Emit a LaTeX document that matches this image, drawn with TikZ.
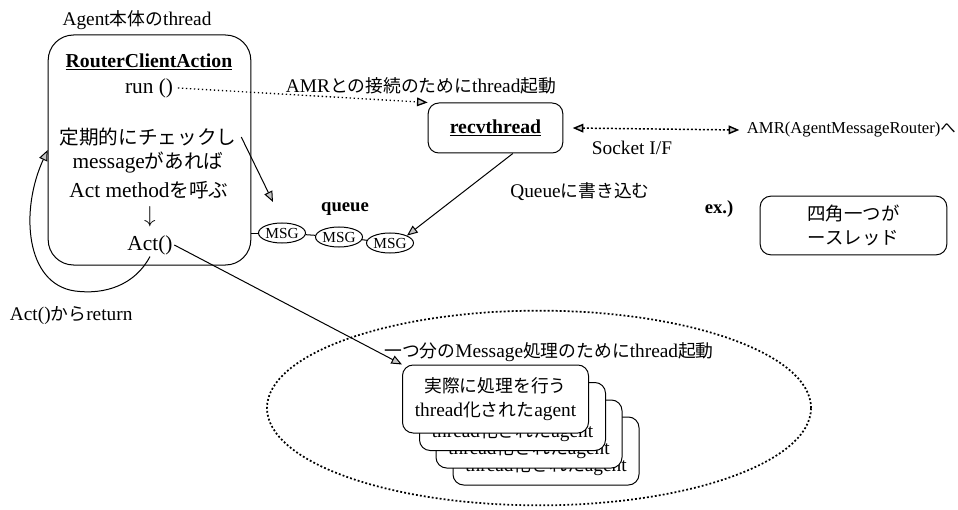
\documentclass[tikz,border=0pt]{standalone}
\usepackage{fontspec}
\setmainfont{Liberation Serif}
\newfontfamily\jp[Scale=0.92]{Noto Sans CJK JP}
\usetikzlibrary{arrows.meta,shapes.geometric}

\tikzset{every picture/.style={line width=0.75pt}}
\tikzset{
  thread/.style={draw, rounded corners=8pt, fill=white, align=center},
  card/.style={thread, inner xsep=2pt, minimum width=139.5pt, minimum height=51pt, font=\fontsize{14.5}{18}\selectfont},
  msg/.style={draw, ellipse, inner sep=0pt, minimum width=35pt, minimum height=15pt, font=\fontsize{11.5}{11.5}\selectfont},
  grayhead/.style={-{Triangle[length=8pt,width=6.5pt,fill=gray!45]}},
  sm/.style={font=\fontsize{14.5}{17}\selectfont},
  big/.style={font=\fontsize{16}{19}\selectfont},
  heavy/.style={font=\bfseries\fontsize{14.8}{17}\selectfont},
}

\begin{document}
\begin{tikzpicture}[x=0.75pt,y=0.75pt,yscale=-1,xscale=1]
	\useasboundingbox (0,0) rectangle (958,510);

	%Dotted Ellipse
	\node (pool) [draw, ellipse, line width=1.3pt, dash pattern=on 1.4pt off 1.6pt, minimum width=408pt, minimum height=146pt] at (539,408) {};

	%Rounded Rect
	\node (main) [thread, rounded corners=19pt, minimum width=152pt, minimum height=172.5pt] at (149.5,150) {};
	%Rounded Rect
	\node (recv) [thread, heavy, minimum width=101pt, minimum height=37.5pt] at (495.5,128) {\underline{recvthread}};
	%Rounded Rect
	\node (exbox) [thread, minimum width=140pt, minimum height=44pt, font=\fontsize{15}{18.5}\selectfont] at (853.5,225.5) {{\jp 四角一つが}\\{\jp ースレッド}};

	%Stacked Rects
	\node (card4) [card] at (546,451) {{\jp 実際に処理を行う}\\[5pt]thread{\jp 化された}agent};
	\node (card3) [card] at (529,434) {{\jp 実際に処理を行う}\\[5pt]thread{\jp 化された}agent};
	\node (card2) [card] at (512.5,416.5) {{\jp 実際に処理を行う}\\[5pt]thread{\jp 化された}agent};
	\node (card1) [card] at (495.5,399) {{\jp 実際に処理を行う}\\thread{\jp 化された}agent};

	% Text Node
	\node (title) [sm] at (137,20) {Agent{\jp 本体の}thread};
	% Text Node
	\node (rca) [heavy] at (149,62) {\underline{RouterClientAction}};
	% Text Node
	\node (run) [big] at (149,88) {run ()};
	% Text Node
	\node (chk) [big] at (148,137) {{\jp 定期的にチェックし}};
	% Text Node
	\node (hasmsg) [big] at (148,163) {message{\jp があれば}};
	% Text Node
	\node (callact) [big] at (149,190) {Act method{\jp を呼ぶ}};
	% Text Node
	\node (down) [big] at (150,217) {$\downarrow$};
	% Text Node
	\node (act) [big, inner sep=1pt] at (150,245) {Act()};
	% Text Node
	\node (runlbl) [sm] at (421,86) {AMR{\jp との接続のために}thread{\jp 起動}};
	% Text Node
	\node (amr) [anchor=west, font=\fontsize{12.5}{15}\selectfont] at (742,130) {AMR(AgentMessageRouter){\jp へ}};
	% Text Node
	\node (socket) [sm] at (632,148) {Socket I/F};
	% Text Node
	\node (qwrite) [sm] at (580,192) {Queue{\jp に書き込む}};
	% Text Node
	\node (queue) [font=\bfseries\fontsize{14}{16}\selectfont] at (345,209) {queue};
	% Text Node
	\node (ex) [font=\bfseries\fontsize{14}{16}\selectfont] at (719,209) {ex.)};
	% Text Node
	\node (ret) [sm, anchor=west] at (5,316) {Act(){\jp から}return};
	% Text Node
	\node (plbl) [sm] at (549,352) {{\jp 一つ分の}Message{\jp 処理のために}thread{\jp 起動}};

	%Queue
	\node (msga) [msg] at (282,233) {MSG};
	\node (msgb) [msg] at (339,237) {MSG};
	\node (msgc) [msg] at (390,243) {MSG};
	\draw (main.east |- msga.west) -- (msga.west);
	\draw (msga) -- (msgb);
	\draw (msgb) -- (msgc);

	\coordinate (qin) at (273,202);

	%Straight Lines
	\draw [dotted, line width=1pt, grayhead] (run.east) -- (recv.north west);
	%Straight Lines
	\draw [line width=1.1pt, dash pattern=on 1.4pt off 1.6pt, {Triangle[length=8pt,width=6.5pt,fill=gray!45]}-{Triangle[length=8pt,width=6.5pt,fill=gray!45]}] ([xshift=7pt]recv.east) -- ([xshift=-2pt]amr.west);
	%Straight Lines
	\draw [grayhead] ([xshift=13pt]recv.south) -- (msgc.north east);
	%Straight Lines
	\draw [grayhead] (chk.east) -- (qin);
	%Straight Lines
	\draw [grayhead] (act.east) -- (card1.north west);
	%Curve Lines
	\draw [grayhead] (act.south) .. controls (135,285) and (105,295) .. (75,291) .. controls (25,284) and (20,210) .. (main.west);

\end{tikzpicture}
\end{document}
